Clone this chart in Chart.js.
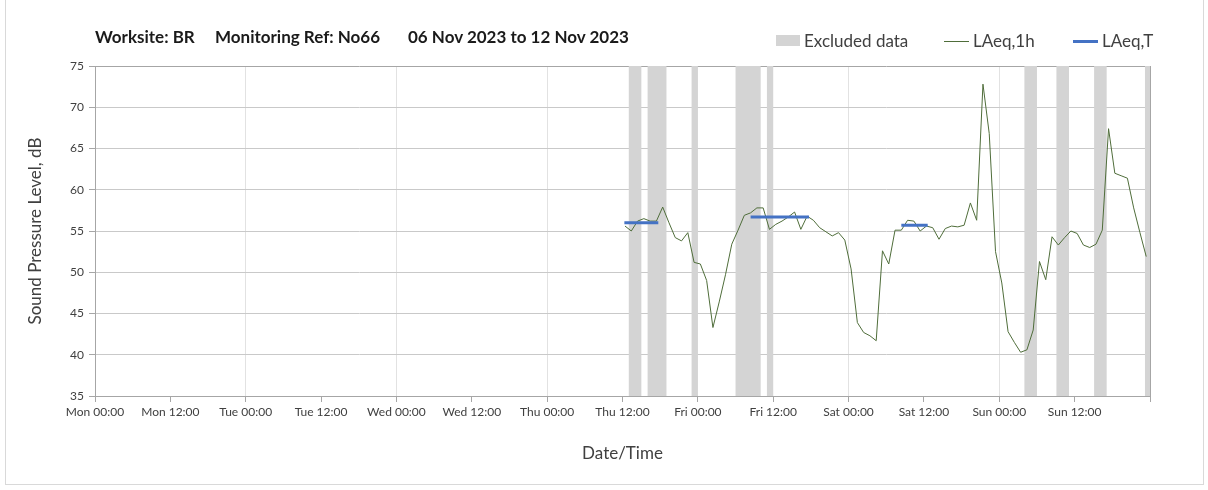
<!DOCTYPE html>
<html>
<head>
<meta charset="utf-8">
<script src="https://cdn.jsdelivr.net/npm/chart.js@4"></script>
<style>
    html, body { margin: 0; padding: 0; background: #fff; }
    #wrap { position: relative; width: 1208px; height: 490px; font-family: Lato, "Open Sans", sans-serif; }
    #chart { position: absolute; left: 0; top: 0; }
    .frame { position: absolute; left: 5px; top: -1px; width: 1197px; height: 484px; border: 1px solid #d9d9d9; }
    .title { position: absolute; top: 26px; font-weight: 700; font-size: 17px; color: #1a1a1a; white-space: pre; }
    .legend-item { position: absolute; top: 30px; font-size: 17px; color: #404040; line-height: 21px; white-space: pre; }
    .swatch { position: absolute; }
</style>
</head>
<body>
<div id="wrap">
    <div class="frame"></div>
    <canvas id="chart" width="1208" height="490"></canvas>
    <div class="title" style="left: 95px;">Worksite: BR</div>
    <div class="title" style="left: 215px;">Monitoring Ref: No66</div>
    <div class="title" style="left: 408px;">06 Nov 2023 to 12 Nov 2023</div>
    <div id="legend"></div>
</div>
<script>
/* ============================
   Weekly noise monitoring chart
   ============================ */

// Hourly LAeq values, first reading Thu shortly after 12:00 (hours from Mon 00:00)
const FIRST_HOUR = 84.4;
const levels1h = [
    55.6, 55.0, 56.2, 56.5, 56.2, 56.2, 57.9, 56.0, 54.2, 53.8, 54.8, 51.2,
    51.0, 49.0, 43.3, 46.4, 49.7, 53.4, 55.1, 56.9, 57.2, 57.8, 57.8, 55.2,
    55.8, 56.2, 56.7, 57.3, 55.2, 56.8, 56.3, 55.4, 54.9, 54.4, 54.8, 53.9,
    50.4, 43.9, 42.7, 42.3, 41.7, 52.6, 51.0, 55.1, 55.1, 56.3, 56.2, 55.0,
    55.6, 55.4, 54.0, 55.3, 55.6, 55.5, 55.7, 58.4, 56.3, 72.8, 66.8, 52.5,
    48.7, 42.8, 41.5, 40.3, 40.6, 43.0, 51.3, 49.1, 54.3, 53.3, 54.2, 55.0,
    54.7, 53.3, 53.0, 53.4, 55.1, 67.4, 62.0, 61.7, 61.4, 57.8, 54.8, 51.9
];

// LAeq,T periods
const periodStart = [84.3, 104.4, 128.4];
const periodEnd = [89.7, 113.7, 132.6];
const periodLevel = [56.0, 56.7, 55.7];

// Excluded data windows
const excludedFrom = [85, 88, 95, 102, 107, 148, 153.1, 159.1, 167.2];
const excludedTo = [87, 91, 96, 106, 108, 150, 155.1, 161.1, 168];

// Axis ticks
const dayNames = ['Mon', 'Tue', 'Wed', 'Thu', 'Fri', 'Sat', 'Sun'];
const yTicks = { min: 35, max: 75, step: 5 };
const xTicks = { min: 0, max: 168, step: 12 };

const COLORS = {
    excluded: '#d4d4d4',
    hourly: '#4f6d3a',
    period: '#4472c4',
    grid: '#c9c9c9',
    dayGrid: '#e2e2e2',
    frame: '#a6a6a6',
    text: '#404040'
};

const FONT = 'Lato, "Open Sans", sans-serif';

const hourlyPoints = levels1h.map((v, i) => ({ x: FIRST_HOUR + i, y: v }));

const periodPoints = [];
periodLevel.forEach((v, i) => {
    periodPoints.push({ x: periodStart[i], y: v });
    periodPoints.push({ x: periodEnd[i], y: v });
    periodPoints.push({ x: periodEnd[i], y: null });
});

// Grey columns behind the series, positioned through the chart scales
const excludedBands = {
    id: 'excludedBands',
    beforeDatasetsDraw(chart) {
        const { ctx, chartArea, scales } = chart;
        ctx.save();
        ctx.fillStyle = COLORS.excluded;
        excludedFrom.forEach((from, i) => {
            const x0 = scales.x.getPixelForValue(from);
            const x1 = scales.x.getPixelForValue(excludedTo[i]);
            ctx.fillRect(x0, chartArea.top, x1 - x0, chartArea.bottom - chartArea.top);
        });
        ctx.restore();
    }
};

function tickLabel(value) {
    if (value >= 168) return '';
    const day = dayNames[Math.floor(value / 24)];
    return `${day} ${value % 24 === 0 ? '00:00' : '12:00'}`;
}

const chart = new Chart(document.getElementById('chart'), {
    type: 'line',
    data: {
        datasets: [
            {
                label: 'LAeq,1h',
                data: hourlyPoints,
                borderColor: COLORS.hourly,
                borderWidth: 1,
                pointRadius: 0,
                tension: 0,
                order: 2
            },
            {
                label: 'LAeq,T',
                data: periodPoints,
                borderColor: COLORS.period,
                borderWidth: 3,
                pointRadius: 0,
                spanGaps: false,
                order: 1
            }
        ]
    },
    options: {
        responsive: false,
        animation: false,
        devicePixelRatio: 1,
        layout: { padding: { top: 66, right: 58, left: 0, bottom: 0 } },
        plugins: {
            legend: { display: false },
            tooltip: { enabled: false }
        },
        scales: {
            x: {
                type: 'linear',
                min: xTicks.min,
                max: xTicks.max,
                afterFit: s => { s.height = 94; },
                ticks: {
                    stepSize: xTicks.step,
                    autoSkip: false,
                    maxRotation: 0,
                    padding: 3,
                    color: COLORS.text,
                    font: { family: FONT, size: 12 },
                    callback: tickLabel
                },
                grid: {
                    color: c => {
                        const v = c.tick ? c.tick.value : 0;
                        if (v === xTicks.max) return COLORS.frame;
                        return v % 24 === 0 ? COLORS.dayGrid : 'transparent';
                    },
                    tickColor: COLORS.frame,
                    tickLength: 6
                },
                border: { color: COLORS.frame },
                title: {
                    display: true,
                    text: 'Date/Time',
                    color: COLORS.text,
                    font: { family: FONT, size: 17 },
                    padding: { top: 0, bottom: 26 }
                }
            },
            y: {
                min: yTicks.min,
                max: yTicks.max,
                afterFit: s => { s.width = 95; },
                ticks: {
                    stepSize: yTicks.step,
                    padding: 5,
                    color: COLORS.text,
                    font: { family: FONT, size: 12 }
                },
                grid: {
                    color: c => (c.tick && c.tick.value === yTicks.max ? COLORS.frame : COLORS.grid),
                    tickColor: COLORS.frame,
                    tickLength: 6
                },
                border: { color: COLORS.frame },
                title: {
                    display: true,
                    text: 'Sound Pressure Level, dB',
                    color: COLORS.text,
                    font: { family: FONT, size: 17 },
                    padding: { top: 25, bottom: 0 }
                }
            }
        }
    },
    plugins: [excludedBands]
});

// Legend row built from the chart's own datasets
(function buildLegend() {
    const legend = document.getElementById('legend');
    const items = [
        { text: 'Excluded data', left: 804, swatch: { left: 776, top: 35, width: 24, height: 11, background: COLORS.excluded } }
    ];
    const lefts = [973, 1102];
    const swatchLefts = [944, 1073];
    chart.data.datasets.forEach((ds, i) => {
        const h = ds.borderWidth;
        items.push({
            text: ds.label,
            left: lefts[i],
            swatch: { left: swatchLefts[i], top: 41 - Math.floor(h / 2), width: 25, height: h, background: ds.borderColor }
        });
    });

    legend.innerHTML = items.map(item => `
        <div class="swatch" style="left:${item.swatch.left}px;top:${item.swatch.top}px;width:${item.swatch.width}px;height:${item.swatch.height}px;background:${item.swatch.background}"></div>
        <div class="legend-item" style="left:${item.left}px">${item.text}</div>
    `).join('');
})();
</script>
</body>
</html>
